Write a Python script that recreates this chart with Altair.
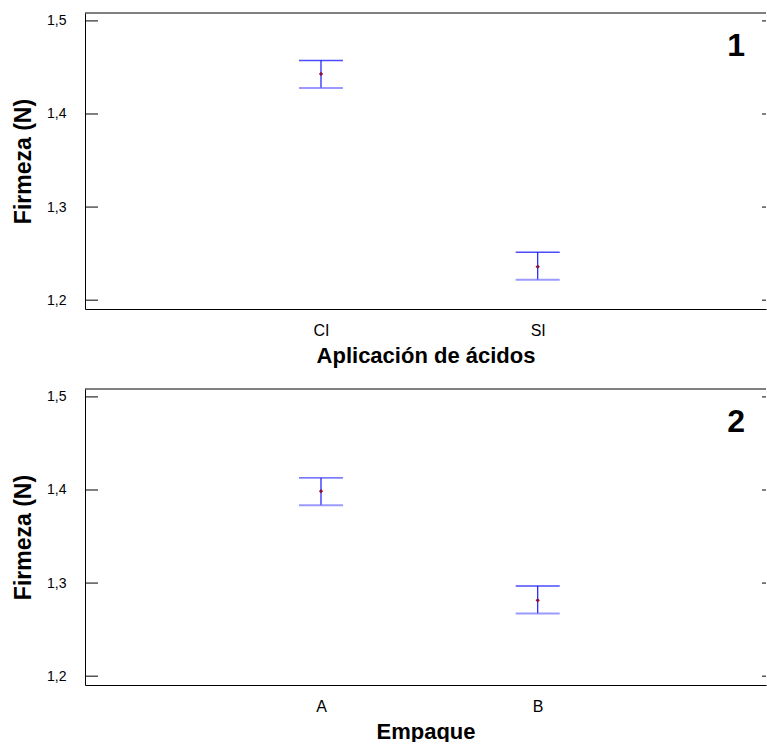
import altair as alt
import pandas as pd

# ---- data ----
cat1 = ["CI", "SI"]
mean1 = [1.443, 1.236]
low1 = [1.428, 1.222]
up1 = [1.4575, 1.2515]

cat2 = ["A", "B"]
mean2 = [1.3987, 1.2815]
low2 = [1.3837, 1.2672]
up2 = [1.413, 1.2968]

yticks = [1.2, 1.3, 1.4, 1.5]

W, H = 681, 296
XDOM = [-0.089, 3.0535]
YDOM = [1.1905, 1.5085]
FONT = "Liberation Sans"
BLUE = "#0000ff"


def panel(cats, means, lows, ups, xtitle, num):
    df = pd.DataFrame({
        "pos": list(range(1, len(cats) + 1)),
        "cat": cats, "mean": means, "low": lows, "up": ups,
    })
    tdf = pd.DataFrame({"v": yticks})
    one = pd.DataFrame({"label": [num]})

    label_expr = " : ".join(
        f"datum.value == {i + 1} ? '{c}'" for i, c in enumerate(cats)
    ) + " : ''"

    xaxis = alt.Axis(values=list(range(1, len(cats) + 1)), labelExpr=label_expr,
                     title=xtitle, ticks=False, grid=False, domain=True,
                     labelFontSize=16, labelPadding=13, labelFont=FONT,
                     titleFont=FONT, titleFontSize=22, titleFontWeight="bold",
                     titlePadding=7, domainColor="#000000", labelColor="#000000",
                     titleColor="#000000")
    yaxis = alt.Axis(values=yticks,
                     labelExpr="replace(format(datum.value, '.1f'), '.', ',')",
                     title="Firmeza (N)", ticks=False, grid=False, domain=True,
                     labelFontSize=14, labelPadding=19, labelFont=FONT,
                     titleFont=FONT, titleFontSize=23, titleFontWeight="bold",
                     titlePadding=11, domainColor="#000000", labelColor="#000000",
                     titleColor="#000000")
    xs = alt.Scale(domain=XDOM, nice=False, zero=False)
    ys = alt.Scale(domain=YDOM, nice=False, zero=False)

    base = alt.Chart(df)
    x = alt.X("pos:Q", scale=xs, axis=xaxis)

    stem = base.mark_rule(color="#1a1aff", strokeWidth=1.2).encode(
        x=x, y=alt.Y("low:Q", scale=ys, axis=yaxis), y2="up:Q")
    capu = base.mark_tick(color=BLUE, orient="horizontal", size=44, thickness=1.4).encode(
        x=x, y=alt.Y("up:Q", scale=ys, axis=yaxis))
    capl = base.mark_tick(color="#7070ff", orient="horizontal", size=44, thickness=2).encode(
        x=x, y=alt.Y("low:Q", scale=ys, axis=yaxis))
    pt = base.mark_point(filled=True, shape="diamond", size=18, color="#8a1040", opacity=1).encode(
        x=x, y=alt.Y("mean:Q", scale=ys, axis=yaxis))

    lt = alt.Chart(tdf).mark_rule(color="#000000", strokeWidth=1).encode(
        y=alt.Y("v:Q", scale=ys, axis=yaxis), x=alt.value(0), x2=alt.value(13))
    rt = alt.Chart(tdf).mark_rule(color="#000000", strokeWidth=1).encode(
        y=alt.Y("v:Q", scale=ys, axis=yaxis), x=alt.value(W - 4), x2=alt.value(W))
    top = alt.Chart(one).mark_rule(color="#000000", strokeWidth=1).encode(
        y=alt.value(0), x=alt.value(0), x2=alt.value(W))
    tag = alt.Chart(one).mark_text(align="right", baseline="alphabetic", fontSize=32,
                                   fontWeight="bold", font=FONT, color="#000000").encode(
        text="label:N", x=alt.value(W - 21), y=alt.value(43))

    return alt.layer(stem, capu, capl, pt, lt, rt, top, tag).properties(width=W, height=H)


p1 = panel(cat1, mean1, low1, up1, "Aplicación de ácidos", "1")
p2 = panel(cat2, mean2, low2, up2, "Empaque", "2")

chart = alt.vconcat(p1, p2, spacing=80, bounds="flush").properties(
    padding={"left": 12, "top": 12, "right": 0, "bottom": 0},
    background="#ffffff",
).configure_view(stroke=None)

chart.save("out.html", embed_options={"renderer": "svg", "actions": False})
